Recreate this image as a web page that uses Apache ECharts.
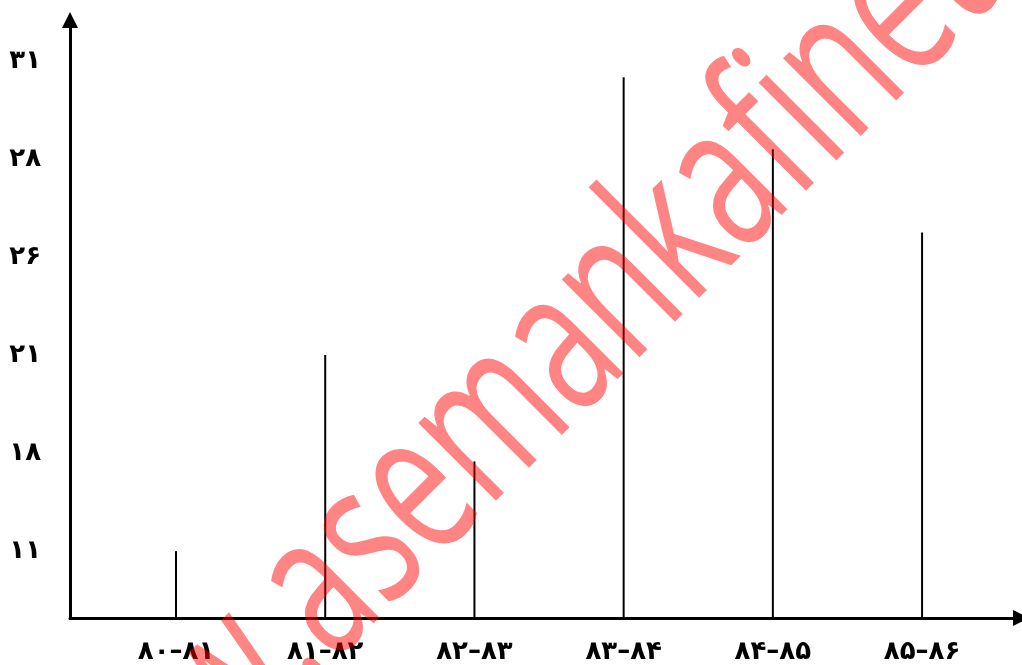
<!DOCTYPE html>
<html>
<head>
<meta charset="utf-8">
<script src="https://cdn.jsdelivr.net/npm/echarts@6/dist/echarts.min.js"></script>
<style>
html,body{margin:0;padding:0;background:#fff;}
#chart{width:1022px;height:665px;}
</style>
</head>
<body>
<div id="chart"></div>
<script>
// ---- data ----
const categories = ['۸۰–۸۱', '۸۱–۸۲', '۸۲–۸۳', '۸۳–۸۴', '۸۴–۸۵', '۸۵–۸۶'];
const yTickValues = [11, 18, 21, 26, 28, 31];
const yTickLabels = ['۱۱', '۱۸', '۲۱', '۲۶', '۲۸', '۳۱'];
const values = [11, 21, 17.4, 30.5, 28.3, 26.5];
const watermarkPrefix = 'www.';
const watermarkText = 'asemankafinet.ir';

// The y axis places its labels at equal steps (an ordinal scale):
// value -> position on that stepped axis.
function toStep(v) {
  for (let i = 0; i < yTickValues.length - 1; i++) {
    if (v <= yTickValues[i + 1]) {
      return i + 1 + (v - yTickValues[i]) / (yTickValues[i + 1] - yTickValues[i]);
    }
  }
  return yTickValues.length;
}

const chart = echarts.init(document.getElementById('chart'), null, {renderer: 'canvas'});
const labelFont = {fontFamily: '"DejaVu Sans"', fontWeight: 'bold', fontSize: 26, color: '#000'};
const wmStyle = {font: '500 137px "Open Sans"', fill: 'rgba(255,0,0,0.48)'};

chart.setOption({
  animation: false,
  backgroundColor: '#fff',
  grid: {left: 70, right: 1, top: 20, bottom: 46, containLabel: false},
  xAxis: {
    type: 'value',
    min: -0.7105,
    max: 5.663,
    splitLine: {show: false},
    axisTick: {show: false},
    axisLine: {show: true, onZero: false, symbol: ['none', 'triangle'], symbolSize: [16, 16],
      lineStyle: {color: '#000', width: 3}},
    axisLabel: Object.assign({
      customValues: categories.map((c, i) => i),
      formatter: v => categories[Math.round(v)],
      margin: 21
    }, labelFont)
  },
  yAxis: {
    type: 'value',
    min: 0.3177,
    max: 6.4175,
    splitLine: {show: false},
    axisTick: {show: false},
    axisLine: {show: true, onZero: false, symbol: ['none', 'triangle'], symbolSize: [16, 16],
      lineStyle: {color: '#000', width: 3}},
    axisLabel: Object.assign({
      customValues: yTickLabels.map((t, i) => i + 1),
      formatter: v => yTickLabels[Math.round(v) - 1],
      margin: 29
    }, labelFont)
  },
  series: [{
    type: 'bar',
    clip: true,
    barWidth: 2,
    itemStyle: {color: '#000'},
    data: values.map((v, i) => [i, toStep(v)])
  }],
  graphic: [
    {type: 'text', x: 292, y: 622, rotation: Math.PI / 4, scaleY: 1.5, z: 100,
      style: Object.assign({text: watermarkText, align: 'left', verticalAlign: 'middle'}, wmStyle)},
    {type: 'text', x: 292, y: 622, rotation: Math.PI / 4, scaleY: 1.5, z: 100,
      style: Object.assign({text: watermarkPrefix, align: 'right', verticalAlign: 'middle'}, wmStyle)}
  ]
});
</script>
</body>
</html>
